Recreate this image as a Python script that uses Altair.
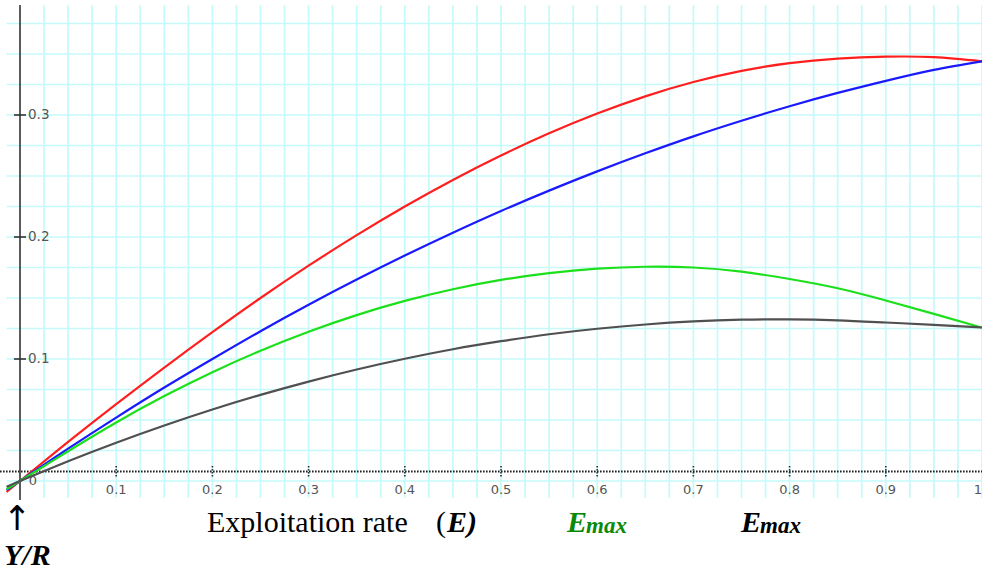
import altair as alt
import pandas as pd

# ---- data ----
E = [-0.014, 0.0, 0.05, 0.1, 0.15, 0.2, 0.25, 0.3, 0.35, 0.4, 0.45, 0.5,
     0.55, 0.6, 0.65, 0.7, 0.75, 0.8, 0.85, 0.9, 0.95, 1.0]
red = [-0.009, 0.0, 0.032, 0.063, 0.093, 0.122, 0.150, 0.1765, 0.2015, 0.2250, 0.2468, 0.2668,
       0.2850, 0.3012, 0.3153, 0.3270, 0.3362, 0.3425, 0.3462, 0.3478, 0.3474, 0.344]
blue = [-0.0075, 0.0, 0.0265, 0.052, 0.0766, 0.100, 0.1228, 0.1445, 0.1651, 0.1848, 0.2035, 0.2213,
        0.238, 0.2538, 0.2686, 0.2825, 0.2953, 0.3072, 0.3181, 0.328, 0.337, 0.344]
green = [-0.0068, 0.0, 0.0244, 0.048, 0.0696, 0.0892, 0.1068, 0.1224, 0.136, 0.1476, 0.1572, 0.1648,
         0.1704, 0.174, 0.1756, 0.1750, 0.1716, 0.1656, 0.158, 0.148, 0.137, 0.1257]
gray = [-0.0047, 0.0, 0.0162, 0.0314, 0.0455, 0.0586, 0.0706, 0.0815, 0.0914, 0.1002, 0.108, 0.1146,
        0.1203, 0.1248, 0.1283, 0.1308, 0.1322, 0.1325, 0.1317, 0.1299, 0.128, 0.1258]

series_names = ["red", "blue", "green", "gray"]
series_colors = ["#ff1f1f", "#1a1aff", "#1be01b", "#505050"]

x_ticks = [0.1, 0.2, 0.3, 0.4, 0.5, 0.6, 0.7, 0.8, 0.9]
x_tick_labels = ["0.1", "0.2", "0.3", "0.4", "0.5", "0.6", "0.7", "0.8", "0.9"]
y_ticks = [0.1, 0.2, 0.3]
y_tick_labels = ["0.1", "0.2", "0.3"]
grid_x = [round(0.025 * i, 3) for i in range(1, 41)]
grid_y = [round(0.025 * i, 3) for i in range(0, 16)]

# ---- tables ----
rows = []
for name, vals in zip(series_names, [red, blue, green, gray]):
    for e, v in zip(E, vals):
        rows.append({"E": e, "Y": v, "s": name})
curves = pd.DataFrame(rows)

W, H = 982, 571
XDOM = [-20 / 962, 1.0]
YDOM = [-90 / 1220, 481 / 1220]
xs = alt.Scale(domain=XDOM, nice=False, zero=False)
ys = alt.Scale(domain=YDOM, nice=False, zero=False)

gx = pd.DataFrame({"gx": grid_x, "y1": -0.014, "y2": 0.39})
gy = pd.DataFrame({"gy": grid_y, "x1": -0.014, "x2": 1.0})

vgrid = alt.Chart(gx).mark_rule(color="#c6fafa", strokeWidth=1.7).encode(
    x=alt.X("gx:Q", scale=xs, axis=None), y=alt.Y("y1:Q", scale=ys, axis=None), y2="y2:Q")
hgrid = alt.Chart(gy).mark_rule(color="#c6fafa", strokeWidth=1.7).encode(
    y=alt.Y("gy:Q", scale=ys, axis=None), x=alt.X("x1:Q", scale=xs, axis=None), x2="x2:Q")

yaxis = alt.Chart(pd.DataFrame({"e": [0.0]})).mark_rule(color="#333333", strokeWidth=1.6).encode(
    x=alt.X("e:Q", scale=xs, axis=None), y=alt.value(5), y2=alt.value(500))

xaxis = alt.Chart(pd.DataFrame({"a": [0]})).mark_rule(
    color="#222222", strokeWidth=1.8, strokeDash=[1.6, 1.4]).encode(
    x=alt.value(0), x2=alt.value(982), y=alt.value(471.5))

tdf = pd.DataFrame({"t": x_ticks, "lab": x_tick_labels})
xticks = alt.Chart(tdf).mark_rule(color="#333333", strokeWidth=1.6, strokeDash=[1.6, 1.4]).encode(
    x=alt.X("t:Q", scale=xs, axis=None), y=alt.value(466), y2=alt.value(478))
xlabels = alt.Chart(tdf).mark_text(font="DejaVu Sans", fontSize=13, color="#555555",
                                   baseline="middle", align="center").encode(
    x=alt.X("t:Q", scale=xs, axis=None), y=alt.value(490), text="lab:N")
zero_lab = alt.Chart(pd.DataFrame({"lab": ["0"]})).mark_text(
    font="DejaVu Sans", fontSize=13, color="#555555", baseline="middle", align="center").encode(
    x=alt.value(33), y=alt.value(481), text="lab:N")
one_lab = alt.Chart(pd.DataFrame({"lab": ["1"]})).mark_text(
    font="DejaVu Sans", fontSize=13, color="#555555", baseline="middle", align="right").encode(
    x=alt.value(982), y=alt.value(490), text="lab:N")

ydf = pd.DataFrame({"t": y_ticks, "lab": y_tick_labels})
yticks = alt.Chart(ydf).mark_rule(color="#333333", strokeWidth=1.6).encode(
    y=alt.Y("t:Q", scale=ys, axis=None), x=alt.value(14), x2=alt.value(26))
ylabels = alt.Chart(ydf).mark_text(font="DejaVu Sans", fontSize=13.5, color="#555555",
                                   baseline="middle", align="left").encode(
    y=alt.Y("t:Q", scale=ys, axis=None), x=alt.value(28), text="lab:N")

lines = alt.Chart(curves).mark_line(strokeWidth=2.2, interpolate="natural").encode(
    x=alt.X("E:Q", scale=xs, axis=None),
    y=alt.Y("Y:Q", scale=ys, axis=None),
    color=alt.Color("s:N", scale=alt.Scale(domain=series_names, range=series_colors), legend=None),
    detail="s:N",
)

SERIF = "Liberation Serif"

def txt(s, x, y, size, color="black", style="normal", weight="normal", align="left",
        baseline="alphabetic", font=SERIF):
    return alt.Chart(pd.DataFrame({"lab": [s]})).mark_text(
        font=font, fontSize=size, color=color, fontStyle=style, fontWeight=weight,
        align=align, baseline=baseline).encode(x=alt.value(x), y=alt.value(y), text="lab:N")

texts = [
    txt("Exploitation rate", 207, 532, 30),
    txt("(", 436, 532, 30),
    txt("E)", 447, 532, 30, style="italic", weight="bold"),
    txt("E", 567, 532, 30, color="#0a8a0a", style="italic", weight="bold"),
    txt("max", 586, 533, 23, color="#0a8a0a", style="italic", weight="bold"),
    txt("E", 741, 532, 30, style="italic", weight="bold"),
    txt("max", 760, 533, 23, style="italic", weight="bold"),
    txt("↑", 17, 530, 34, align="center", font="DejaVu Sans"),
    txt("Y/R", 4, 565, 30, style="italic", weight="bold"),
]

chart = alt.layer(vgrid, hgrid, xaxis, xticks, yaxis, yticks, lines, xlabels, zero_lab, one_lab,
                  ylabels, *texts).properties(
    width=W, height=H, padding=0, autosize=alt.AutoSizeParams(type="none"),
    background="white"
).configure_view(stroke=None)

chart.save("out.html", embed_options={"renderer": "svg", "actions": False})
